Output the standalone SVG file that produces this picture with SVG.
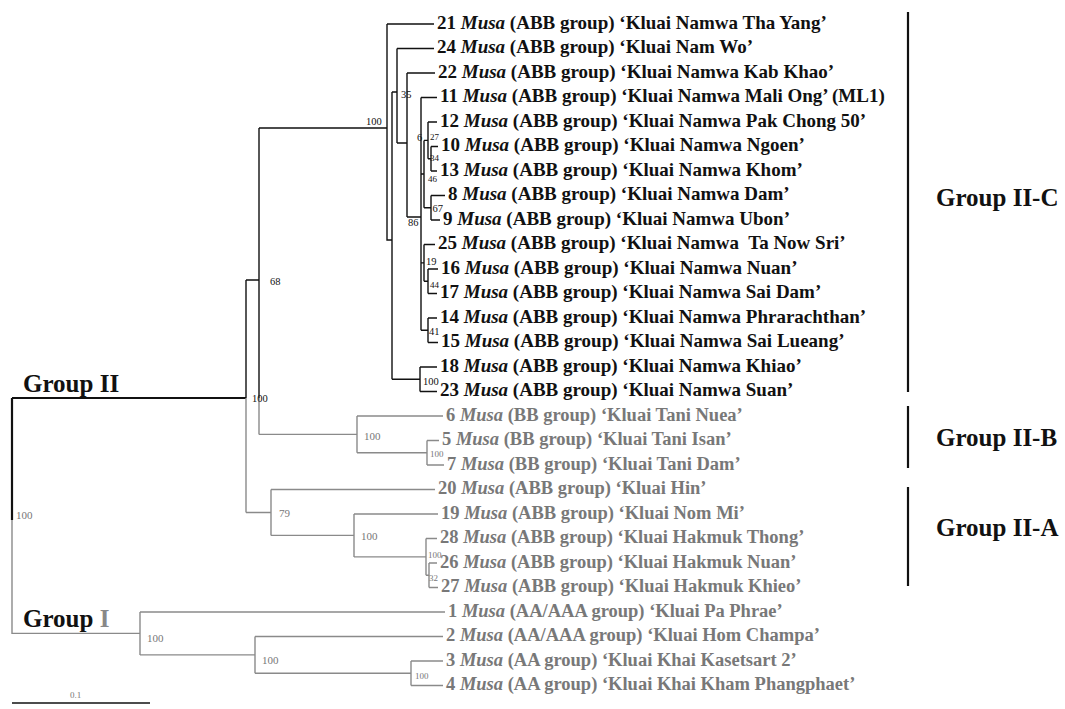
<svg xmlns="http://www.w3.org/2000/svg" width="1065" height="709" viewBox="0 0 1065 709">
<style>
.lf{font-family:"Liberation Serif","Times New Roman",serif;font-size:19px;font-weight:bold;fill:#111}
.lg{font-family:"Liberation Serif","Times New Roman",serif;font-size:18.5px;font-weight:bold;fill:#787878}
.bs{font-family:"Liberation Serif","Times New Roman",serif;font-size:10.5px;fill:#111}
.bg{font-family:"Liberation Serif","Times New Roman",serif;font-size:11px;fill:#777}
.sm{font-size:9px}
.gl{font-family:"Liberation Serif","Times New Roman",serif;font-size:25px;font-weight:bold;fill:#111}
.k{stroke:#111;stroke-width:1.4;fill:none}
.g{stroke:#8a8a8a;stroke-width:1.4;fill:none}
.thk{stroke:#111;stroke-width:2.2;fill:none}
.it{font-style:italic}
</style>
<g id="connectors">
  <path class="thk" d="M12,398V520M12,398H246"/>
  <path class="g" d="M12,520V633.4H140"/>
  <path class="k" d="M246,280V398M246,280H259M259,128V398M259,128H387"/>
  <path class="g" d="M246,398V512.5M259,398V434.4"/>
  <!-- Group II-C -->
  <path class="k" d="M387,24V240H392M387,24H434M392,92V379.2M392,92H397M397,48.5V143M397,48.5H434M397,143H407M407,73V217M407,73H435M407,217H421M421,97.5V330.2M421,97.5H437"/>
  <path class="k" d="M421,174H424M424,140.4V207.8M424,140.4H428M428,122V158.8M428,122H437M428,158.8H431M431,146.5V171M431,146.5H438M431,171H437M424,207.8H431M431,195.5V220M431,195.5H445M431,220H440"/>
  <path class="k" d="M421,262.9H424M424,244.5V281.2M424,244.5H435M424,281.2H428M428,269V293.5M428,269H438M428,293.5H437M421,330.2H428M428,318V342.5M428,318H437M428,342.5H438"/>
  <path class="k" d="M392,379.2H420M420,367V391.5M420,367H437M420,391.5H437"/>
  <!-- Group II-B -->
  <path class="g" d="M259,434.4H357M357,416V452.8M357,416H443M357,452.8H427M427,440.5V465M427,440.5H439M427,465H444"/>
  <!-- Group II-A -->
  <path class="g" d="M246,512.5H271M271,489.5V535.4M271,489.5H435M271,535.4H354M354,514V556.9M354,514H438M354,556.9H426M426,538.5V575.3M426,538.5H437M426,575.3H429M429,563V587.5M429,563H437M429,587.5H438"/>
  <!-- Group I -->
  <path class="g" d="M140,612V654.9M140,612H445M140,654.9H255M255,636.5V673.3M255,636.5H443M255,673.3H411M411,661V685.5M411,661H443M411,685.5H443"/>
  <!-- scale bar -->
  <path class="k" d="M12,703H150"/>
</g>
<g id="bootstrap">
  <text class="bs" x="252" y="402">100</text>
  <text class="bs" x="270" y="285">68</text>
  <text class="bs" x="366" y="125">100</text>
  <text class="bs" x="401" y="98">35</text>
  <text class="bs" x="408" y="226">86</text>
  <text class="bs" x="417" y="141">6</text>
  <text class="bs sm" x="430" y="140">27</text>
  <text class="bs sm" x="430" y="161">34</text>
  <text class="bs sm" x="428" y="182">46</text>
  <text class="bs" x="432.5" y="212">67</text>
  <text class="bs" x="426" y="265">19</text>
  <text class="bs sm" x="430" y="288">44</text>
  <text class="bs" x="429" y="335">41</text>
  <text class="bs" x="423" y="385">100</text>
  <text class="bg" x="364" y="440">100</text>
  <text class="bg sm" x="430" y="457">100</text>
  <text class="bg" x="279" y="517">79</text>
  <text class="bg" x="361" y="540">100</text>
  <text class="bg sm" x="428" y="558">100</text>
  <text class="bg sm" x="429" y="581">32</text>
  <text class="bg" x="16" y="519">100</text>
  <text class="bg" x="147" y="642">100</text>
  <text class="bg" x="262" y="664">100</text>
  <text class="bg sm" x="415" y="679">100</text>
  <text class="bg sm" x="70" y="698">0.1</text>
</g>
<g id="groupII-C">
  <text class="lf" x="437" y="28.5">21 <tspan class="it">Musa</tspan> (ABB group) ‘Kluai Namwa Tha Yang’</text>
  <text class="lf" x="437" y="53">24 <tspan class="it">Musa</tspan> (ABB group) ‘Kluai Nam Wo’</text>
  <text class="lf" x="438" y="77.5">22 <tspan class="it">Musa</tspan> (ABB group) ‘Kluai Namwa Kab Khao’</text>
  <text class="lf" x="440" y="102">11 <tspan class="it">Musa</tspan> (ABB group) ‘Kluai Namwa Mali Ong’ (ML1)</text>
  <text class="lf" x="440" y="126.5">12 <tspan class="it">Musa</tspan> (ABB group) ‘Kluai Namwa Pak Chong 50’</text>
  <text class="lf" x="441" y="151">10 <tspan class="it">Musa</tspan> (ABB group) ‘Kluai Namwa Ngoen’</text>
  <text class="lf" x="440" y="175.5">13 <tspan class="it">Musa</tspan> (ABB group) ‘Kluai Namwa Khom’</text>
  <text class="lf" x="448" y="200">8 <tspan class="it">Musa</tspan> (ABB group) ‘Kluai Namwa Dam’</text>
  <text class="lf" x="443" y="224.5">9 <tspan class="it">Musa</tspan> (ABB group) ‘Kluai Namwa Ubon’</text>
  <text class="lf" x="438" y="249">25 <tspan class="it">Musa</tspan> (ABB group) ‘Kluai Namwa&#160; Ta Now Sri’</text>
  <text class="lf" x="441" y="273.5">16 <tspan class="it">Musa</tspan> (ABB group) ‘Kluai Namwa Nuan’</text>
  <text class="lf" x="440" y="298">17 <tspan class="it">Musa</tspan> (ABB group) ‘Kluai Namwa Sai Dam’</text>
  <text class="lf" x="440" y="322.5">14 <tspan class="it">Musa</tspan> (ABB group) ‘Kluai Namwa Phrarachthan’</text>
  <text class="lf" x="441" y="347">15 <tspan class="it">Musa</tspan> (ABB group) ‘Kluai Namwa Sai Lueang’</text>
  <text class="lf" x="440" y="371.5">18 <tspan class="it">Musa</tspan> (ABB group) ‘Kluai Namwa Khiao’</text>
  <text class="lf" x="440" y="396">23 <tspan class="it">Musa</tspan> (ABB group) ‘Kluai Namwa Suan’</text>
  <path class="thk" d="M908,12V392"/>
  <text class="gl" x="936" y="206">Group II-C</text>
</g>
<g id="groupII-B">
  <text class="lg" x="446" y="420.5">6 <tspan class="it">Musa</tspan> (BB group) ‘Kluai Tani Nuea’</text>
  <text class="lg" x="442" y="445">5 <tspan class="it">Musa</tspan> (BB group) ‘Kluai Tani Isan’</text>
  <text class="lg" x="447" y="469.5">7 <tspan class="it">Musa</tspan> (BB group) ‘Kluai Tani Dam’</text>
  <path class="thk" d="M908,406V468"/>
  <text class="gl" x="936" y="446">Group II-B</text>
</g>
<g id="groupII-A">
  <text class="lg" x="438" y="494">20 <tspan class="it">Musa</tspan> (ABB group) ‘Kluai Hin’</text>
  <text class="lg" x="441" y="518.5">19 <tspan class="it">Musa</tspan> (ABB group) ‘Kluai Nom Mi’</text>
  <text class="lg" x="440" y="543">28 <tspan class="it">Musa</tspan> (ABB group) ‘Kluai Hakmuk Thong’</text>
  <text class="lg" x="440" y="567.5">26 <tspan class="it">Musa</tspan> (ABB group) ‘Kluai Hakmuk Nuan’</text>
  <text class="lg" x="441" y="592">27 <tspan class="it">Musa</tspan> (ABB group) ‘Kluai Hakmuk Khieo’</text>
  <path class="thk" d="M908,487V586"/>
  <text class="gl" x="936" y="536">Group II-A</text>
</g>
<g id="groupI">
  <text class="lg" x="448" y="616.5">1 <tspan class="it">Musa</tspan> (AA/AAA group) ‘Kluai Pa Phrae’</text>
  <text class="lg" x="446" y="641">2 <tspan class="it">Musa</tspan> (AA/AAA group) ‘Kluai Hom Champa’</text>
  <text class="lg" x="446" y="665.5">3 <tspan class="it">Musa</tspan> (AA group) ‘Kluai Khai Kasetsart 2’</text>
  <text class="lg" x="446" y="690">4 <tspan class="it">Musa</tspan> (AA group) ‘Kluai Khai Kham Phangphaet’</text>
</g>
<g id="group-labels">
  <text class="gl" x="23" y="392">Group II</text>
  <text class="gl" x="23" y="627">Group <tspan fill="#888">I</tspan></text>
</g>
</svg>
